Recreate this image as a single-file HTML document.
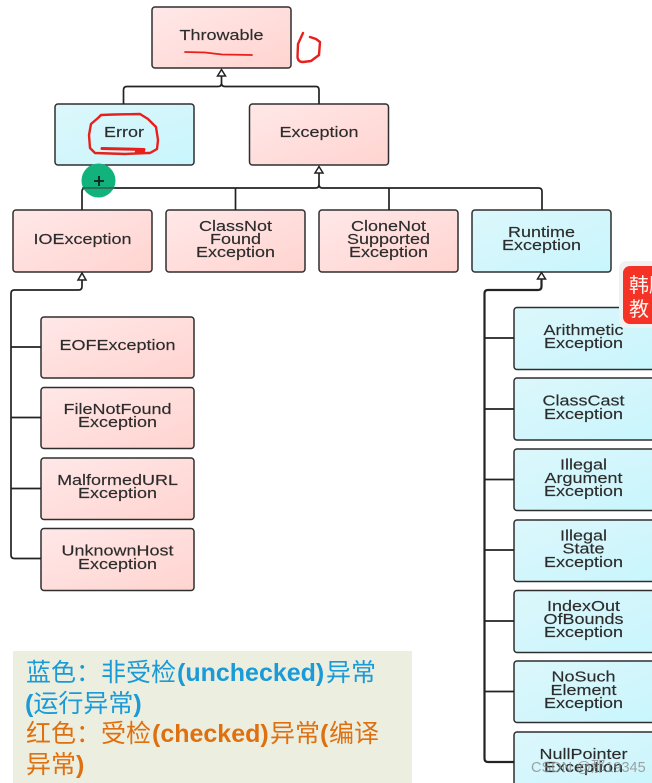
<!DOCTYPE html>
<html><head><meta charset="utf-8"><style>
html,body{margin:0;padding:0;background:#fff;width:652px;height:783px;overflow:hidden}
svg{display:block;filter:blur(.35px)}
.b{stroke:#2f2f2f;stroke-width:1.5}
.c{fill:none;stroke:#222;stroke-width:1.7}
.a{fill:#fff;stroke:#222;stroke-width:1.5}
.t text{font:14.5px "Liberation Sans",sans-serif;fill:#2c2c2c;text-anchor:middle;stroke:#2c2c2c;stroke-width:.15}
.r{fill:none;stroke:#e8201c;stroke-width:2.4;stroke-linecap:round;stroke-linejoin:round}
.l{font:25px "Liberation Sans","Noto Sans CJK SC",sans-serif}
.l tspan{font-weight:bold}
</style></head><body>
<svg width="652" height="783" viewBox="0 0 652 783" xmlns="http://www.w3.org/2000/svg">
<defs>
<linearGradient id="p" x1="0" y1="0" x2="1" y2="1"><stop offset="0" stop-color="#ffe8e8"/><stop offset="1" stop-color="#ffd4d0"/></linearGradient>
<linearGradient id="s" x1="0" y1="0" x2="1" y2="1"><stop offset="0" stop-color="#dcf7fb"/><stop offset="1" stop-color="#c8f6fd"/></linearGradient>
</defs>
<g fill="url(#p)">
<rect class="b" x="152" y="7" width="139" height="61" rx="3"/>
<rect class="b" x="249.500" y="104" width="139" height="61" rx="3"/>
<rect class="b" x="13" y="210" width="139" height="62" rx="3"/>
<rect class="b" x="166" y="210" width="139" height="62" rx="3"/>
<rect class="b" x="319" y="210" width="139" height="62" rx="3"/>
<rect class="b" x="41" y="317" width="153" height="61" rx="3"/>
<rect class="b" x="41" y="387.500" width="153" height="61" rx="3"/>
<rect class="b" x="41" y="458" width="153" height="61.500" rx="3"/>
<rect class="b" x="41" y="528.500" width="153" height="62" rx="3"/>
</g>
<g fill="url(#s)">
<rect class="b" x="55" y="104" width="139" height="61" rx="3"/>
<rect class="b" x="472" y="210" width="139" height="62" rx="3"/>
<rect class="b" x="514" y="307.500" width="145" height="62" rx="3"/>
<rect class="b" x="514" y="378" width="145" height="62" rx="3"/>
<rect class="b" x="514" y="449" width="145" height="61.500" rx="3"/>
<rect class="b" x="514" y="520" width="145" height="61.500" rx="3"/>
<rect class="b" x="514" y="590.500" width="145" height="62" rx="3"/>
<rect class="b" x="514" y="661" width="145" height="61.500" rx="3"/>
<rect class="b" x="514" y="732" width="145" height="65" rx="3"/>
</g>
<g>
<path class="c" d="M221.500 76V83Q221.500 86.500 218 86.500H127Q123.500 86.500 123.500 90V104M221.500 83Q221.500 86.500 225 86.500H316Q319 86.500 319 90V104"/>
<path class="c" d="M319 173V184.500Q319 188 315.500 188H85.500Q82 188 82 191.500V210M235.500 188V210M319 184.500Q319 188 322.500 188H538.500Q542 188 542 191.500V210M389 188V210"/>
<path class="c" d="M82 280V286.500Q82 290 78.500 290H14.500Q11 290 11 293.500V555Q11 558.500 14.500 558.500H41M11 347H41M11 417.500H41M11 488.500H41"/>
<path class="c" style="stroke-width:2.2" d="M541.500 279V286.500Q541.500 290 538 290H488Q484.500 290 484.500 293.500V758.500Q484.500 762 488 762H514"/>
<path class="c" d="M484.500 338H514M484.500 409H514M484.500 479.500H514M484.500 550H514M484.500 621H514M484.500 691.500H514"/>
<path class="a" d="M221.500 69.500L217.500 76H225.500Z"/>
<path class="a" d="M319 166.500L315 173H323Z"/>
<path class="a" d="M82 273L78 280H86Z"/>
<path class="a" d="M541.500 272.500L537.500 279H545.500Z"/>
</g>
<circle cx="98.500" cy="180.500" r="17" fill="#12b27c"/>
<path d="M82 188H115" stroke="#2f5f50" stroke-width="1.500"/>
<path d="M94 181H104M99 176V186" stroke="#13221c" stroke-width="1.800"/>
<g class="t">
<text transform="translate(221.500 40) scale(1.24 1)">Throwable</text>
<text transform="translate(124 137) scale(1.24 1)">Error</text>
<text transform="translate(319 137) scale(1.24 1)">Exception</text>
<text transform="translate(82.500 244) scale(1.24 1)">IOException</text>
<text transform="translate(235.500 231) scale(1.24 1)">ClassNot</text>
<text transform="translate(235.500 244) scale(1.24 1)">Found</text>
<text transform="translate(235.500 257) scale(1.24 1)">Exception</text>
<text transform="translate(388.500 231) scale(1.24 1)">CloneNot</text>
<text transform="translate(388.500 244) scale(1.24 1)">Supported</text>
<text transform="translate(388.500 257) scale(1.24 1)">Exception</text>
<text transform="translate(541.500 237) scale(1.24 1)">Runtime</text>
<text transform="translate(541.500 250) scale(1.24 1)">Exception</text>
<text transform="translate(117.500 350) scale(1.24 1)">EOFException</text>
<text transform="translate(117.500 414) scale(1.24 1)">FileNotFound</text>
<text transform="translate(117.500 427) scale(1.24 1)">Exception</text>
<text transform="translate(117.500 485) scale(1.24 1)">MalformedURL</text>
<text transform="translate(117.500 498) scale(1.24 1)">Exception</text>
<text transform="translate(117.500 555.500) scale(1.24 1)">UnknownHost</text>
<text transform="translate(117.500 569) scale(1.24 1)">Exception</text>
<text transform="translate(583.500 335) scale(1.24 1)">Arithmetic</text>
<text transform="translate(583.500 348) scale(1.24 1)">Exception</text>
<text transform="translate(583.500 405.500) scale(1.24 1)">ClassCast</text>
<text transform="translate(583.500 419) scale(1.24 1)">Exception</text>
<text transform="translate(583.500 469.500) scale(1.24 1)">Illegal</text>
<text transform="translate(583.500 483) scale(1.24 1)">Argument</text>
<text transform="translate(583.500 496) scale(1.24 1)">Exception</text>
<text transform="translate(583.500 540.500) scale(1.24 1)">Illegal</text>
<text transform="translate(583.500 553.500) scale(1.24 1)">State</text>
<text transform="translate(583.500 567) scale(1.24 1)">Exception</text>
<text transform="translate(583.500 611) scale(1.24 1)">IndexOut</text>
<text transform="translate(583.500 624) scale(1.24 1)">OfBounds</text>
<text transform="translate(583.500 637) scale(1.24 1)">Exception</text>
<text transform="translate(583.500 681.500) scale(1.24 1)">NoSuch</text>
<text transform="translate(583.500 695) scale(1.24 1)">Element</text>
<text transform="translate(583.500 708) scale(1.24 1)">Exception</text>
<text transform="translate(583.500 759) scale(1.24 1)">NullPointer</text>
<text transform="translate(583.500 772) scale(1.24 1)">Exception</text>
</g>
<path class="r" style="stroke-width:1.8" d="M185 52L205 52.500L222 54.500L252 55"/>
<path class="r" d="M303 33L298 44L297.500 57Q298 62 303 62L311 61L319 55L320 42L316 39L310 37"/>
<path class="r" d="M101 115L114 114.500L140 114L148 119L156 127L158 140L157 149L150 153L148 153L125 154L95 153L90 148L89 135L91 124L98 118Z"/>
<path class="r" style="stroke-width:3" d="M102 148.500L144 149.500"/>
<path d="M135 149H145V153H135Z" fill="#e8201c"/>
<rect x="619" y="261" width="40" height="67" rx="7" fill="#f1f1f1"/>
<rect x="623" y="266" width="40" height="58" rx="7" fill="#f53226"/>
<text x="629" y="292" font-family="'Liberation Sans','Noto Sans CJK SC',sans-serif" font-size="20" fill="#fff5f0">韩顺</text>
<text x="629" y="316" font-family="'Liberation Sans','Noto Sans CJK SC',sans-serif" font-size="20" fill="#fff5f0">教</text>
<rect x="13" y="651" width="399" height="132" fill="#ecefe0"/>
<g class="l" fill="#1a9ad6">
<text x="26" y="681">蓝色：非受检<tspan x="177">(unchecked)</tspan><tspan x="326" style="font-weight:normal">异常</tspan></text>
<text x="25" y="712"><tspan>(</tspan>运行异常<tspan>)</tspan></text>
</g>
<g class="l" fill="#df7010">
<text x="26" y="742">红色：受检<tspan x="152">(checked)</tspan><tspan x="270" style="font-weight:normal">异常</tspan><tspan x="320">(</tspan><tspan x="329" style="font-weight:normal">编译</tspan></text>
<text x="26" y="773">异常<tspan>)</tspan></text>
</g>
<text x="531" y="772" font-family="'Liberation Sans','Noto Sans CJK SC',sans-serif" font-size="14.500" fill="#8c8c8c" fill-opacity=".8">CSDN @那19345</text>
</svg>
</body></html>
